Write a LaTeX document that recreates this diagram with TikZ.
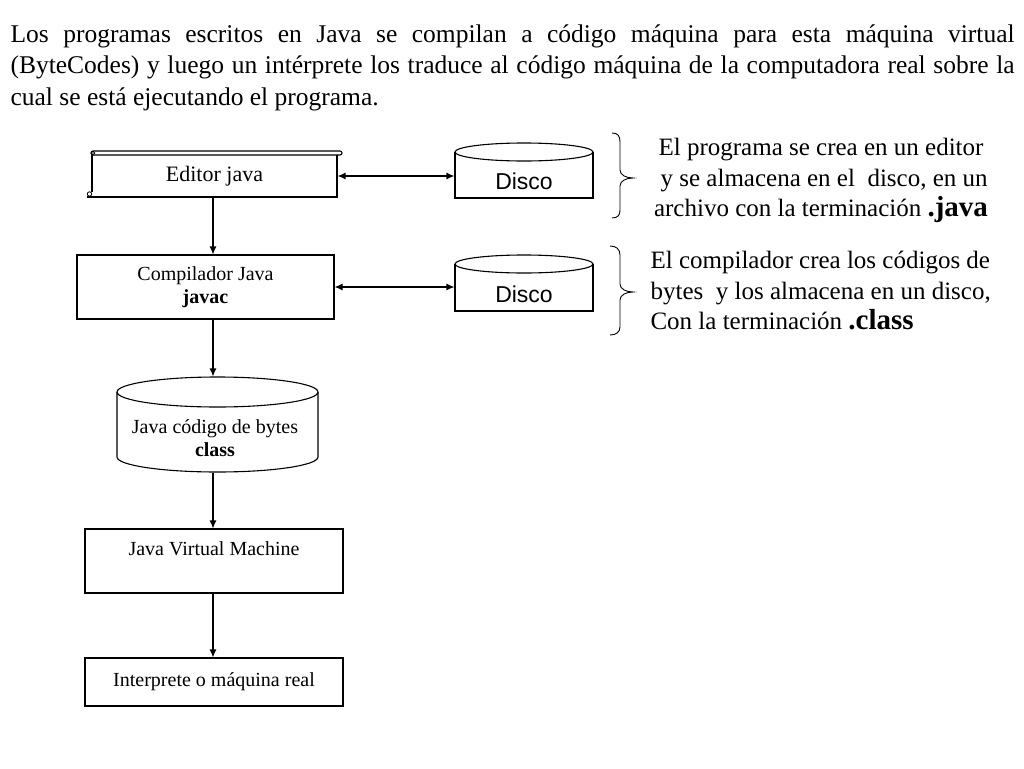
\documentclass[tikz,border=0pt]{standalone}
\usepackage{fontspec}
\setmainfont{Liberation Serif}
\newfontfamily\discofont{Liberation Sans}
\usetikzlibrary{arrows.meta,calc}
\begin{document}
\begin{tikzpicture}[x=1pt,y=-1pt,line width=1.1pt,
  arr/.style={-{Latex[length=8pt,width=7pt]}},
  darr/.style={{Latex[length=8pt,width=7pt]}-{Latex[length=8pt,width=7pt]}},
  boxtext/.style={font=\fontsize{20}{23}\selectfont, align=center},
  procbox/.style={draw, rectangle, inner sep=0pt, boxtext},
  disco/.style={inner sep=0pt, minimum width=138pt, font=\discofont\fontsize{23}{26}\selectfont},
  note/.style={inner sep=0pt, font=\fontsize{25}{30.5}\selectfont}]
\useasboundingbox[fill=white] (0,0) rectangle (1024,768);

% intro paragraph
\node[anchor=north west, inner sep=0pt, text width=1004pt, align=justify,
      font=\fontsize{25.5}{31.5}\selectfont] (intro) at (10,24)
 {Los programas escritos en Java se compilan a código máquina para esta máquina virtual\linebreak
  (ByteCodes) y luego un intérprete los traduce al código máquina de la computadora real sobre la\linebreak
  cual se está ejecutando el programa.};

% Editor (scroll)
\node[inner sep=0pt, minimum width=245pt, minimum height=42pt,
      font=\fontsize{22}{26}\selectfont] (editor) at (214.5,176) {Editor java};
\draw[rounded corners=2pt] (91,151) rectangle (342,155);
\draw[line width=0.8pt] (93,153) circle (1.8);
\draw (92,155) -- (92,192);
\draw[line width=0.8pt] (89.5,194) circle (2.2);
\draw (87,197) -- (337,197) -- (337,155);

% Disco 1
\draw (455,152) -- (455,198) -- (593,198) -- (593,152);
\draw (524,152) ellipse [x radius=69, y radius=9];
\node[disco] (disco1) at (524,181) {Disco};

% Compilador
\node[procbox, minimum width=257pt, minimum height=64pt] (comp) at (205.5,287)
 {Compilador Java\\\textbf{javac}};

% Disco 2
\draw (455,264) -- (455,311) -- (593,311) -- (593,264);
\draw (524,264) ellipse [x radius=69, y radius=9];
\node[disco] (disco2) at (524,294) {Disco};

% bytes cylinder
\draw (217.5,392) ellipse [x radius=100.5, y radius=15];
\draw (117,392) -- (117,457) arc[start angle=180, end angle=0, x radius=100.5, y radius=15] -- (318,392);
\node[inner sep=0pt, minimum width=201pt, minimum height=95pt] (bytes) at (217.5,424.5) {};
\node[boxtext, inner sep=0pt] (bytestext) at (215,438) {Java código de bytes\\\textbf{class}};

% JVM
\node[procbox, minimum width=258pt, minimum height=64pt,
      label={[boxtext, anchor=north, yshift=-9pt]north:Java Virtual Machine}] (jvm) at (214,561) {};

% Interprete
\node[procbox, minimum width=258pt, minimum height=48pt] (interp) at (214,682)
 {\raisebox{4pt}{Interprete o máquina real}};

% vertical connectors
\coordinate (ax) at (213,0);
\draw[arr] (ax |- editor.south) -- (ax |- comp.north);
\draw[arr] (ax |- comp.south) -- (ax |- bytes.north);
\draw[arr] (ax |- bytes.south) -- (ax |- jvm.north);
\draw[arr] (ax |- jvm.south) -- (ax |- interp.north);

% horizontal double arrows
\draw[darr] (editor.east) -- (editor.east -| disco1.west);
\draw[darr] (comp.east) -- (comp.east -| disco2.west);

% braces
\draw[line width=0.9pt] (612,133) .. controls (618,133) and (620,136) .. (620,142) -- (620,170)
  .. controls (620,175) and (626,178) .. (633,178)
  .. controls (626,178) and (620,181) .. (620,186) -- (620,210)
  .. controls (620,215) and (618,218) .. (612,218);
\draw[line width=0.9pt] (610,246) .. controls (616,246) and (620,249) .. (620,255) -- (620,284)
  .. controls (620,289) and (626,292) .. (633,292)
  .. controls (626,292) and (620,295) .. (620,300) -- (620,327)
  .. controls (620,332) and (616,335) .. (610,335);

% notes
\node[note, anchor=north, align=center] (note1) at (821,138)
 {El programa se crea en un editor\\
  \ y se almacena en el\ \ disco, en un\\
  archivo con la terminación {\fontsize{29}{30.5}\selectfont\textbf{.java}}};
\node[note, anchor=north west, align=left] (note2) at (650,251)
 {El compilador crea los códigos de\\
  bytes\ \ y los almacena en un disco,\\
  Con la terminación {\fontsize{29}{30.5}\selectfont\textbf{.class}}};
\end{tikzpicture}
\end{document}
